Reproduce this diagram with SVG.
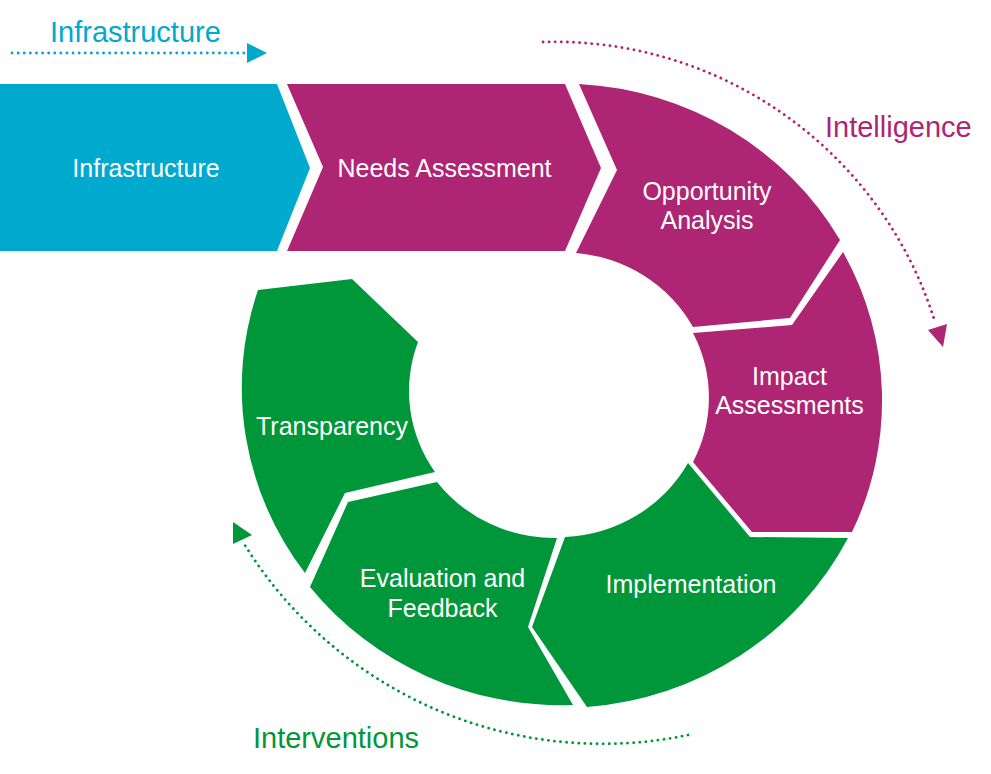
<svg xmlns="http://www.w3.org/2000/svg" width="991" height="774" viewBox="0 0 991 774">
<style>
.blue{fill:#00A9CE}
.mag{fill:#AE2573}
.grn{fill:#00973A}
.lbl{font-family:"Liberation Sans",Arial,sans-serif;font-size:25px;fill:#FFFFFF;text-anchor:middle}
.cap{font-family:"Liberation Sans",Arial,sans-serif;font-size:29px}
.dot{fill:none;stroke-width:2.8;stroke-linecap:round;stroke-dasharray:0.1 6}
</style>
<rect width="991" height="774" fill="#FFFFFF"/>
<g id="connectors">
  <g id="arrow-infrastructure">
    <path class="dot" stroke="#00A9CE" d="M12,53 L246,53"/>
    <polygon class="blue" points="247,43 267,53 247,63"/>
  </g>
  <g id="arrow-intelligence">
    <path class="dot" stroke="#AE2573" d="M543,42 A398,398 0 0 1 935,322"/>
    <polygon class="mag" points="928,330 947,324 943,347"/>
  </g>
  <g id="arrow-interventions">
    <path class="dot" stroke="#00973A" d="M688,735 A421,421 0 0 1 243,542"/>
    <polygon class="grn" points="233,522 252,535 233,544"/>
  </g>
</g>
<g id="label-infrastructure"><text class="cap" x="50" y="42" fill="#00A9CE">Infrastructure</text></g>
<g id="label-intelligence"><text class="cap" x="825" y="137" fill="#AE2573">Intelligence</text></g>
<g id="label-interventions"><text class="cap" x="253" y="748" fill="#00973A">Interventions</text></g>
<g id="node-infrastructure">
  <polygon class="blue" points="0,84 277,84 310,168 277,251 0,251"/>
  <text class="lbl" x="146" y="177">Infrastructure</text>
</g>
<g id="node-needs-assessment">
  <polygon class="mag" points="287,84 565,84 601,168 565,251 287,251 323,167"/>
  <text class="lbl" x="444.5" y="177">Needs Assessment</text>
</g>
<g id="node-opportunity-analysis">
  <path class="mag" d="M579,84 A321,311 0 0 1 840,240 L790,318 L693,327 A148,143 0 0 0 576,253 L617,170 Z"/>
  <text class="lbl" x="707" y="200">Opportunity</text>
  <text class="lbl" x="707" y="229">Analysis</text>
</g>
<g id="node-impact-assessments">
  <path class="mag" d="M843,252 A321,311 0 0 1 852,532 L752,532 L693,462 A148,143 0 0 0 693,333 L792,325 Z"/>
  <text class="lbl" x="789.5" y="385">Impact</text>
  <text class="lbl" x="789.5" y="414">Assessments</text>
</g>
<g id="node-implementation">
  <path class="grn" d="M848,538 A321,311 0 0 1 587,707 L532,627 L565,537 A148,143 0 0 0 688,463 L750,537 Z"/>
  <text class="lbl" x="691" y="593">Implementation</text>
</g>
<g id="node-evaluation-feedback">
  <path class="grn" d="M573,705 A321,311 0 0 1 310,587 L348,502 L437,482 A148,143 0 0 0 557,538 L528,627 Z"/>
  <text class="lbl" x="442.5" y="587">Evaluation and</text>
  <text class="lbl" x="442.5" y="617">Feedback</text>
</g>
<g id="node-transparency">
  <path class="grn" d="M305,573 A321,311 0 0 1 258,290 L352,279 L418,342 A148,143 0 0 0 435,472 L345,493 Z"/>
  <text class="lbl" x="332" y="435">Transparency</text>
</g>
</svg>
